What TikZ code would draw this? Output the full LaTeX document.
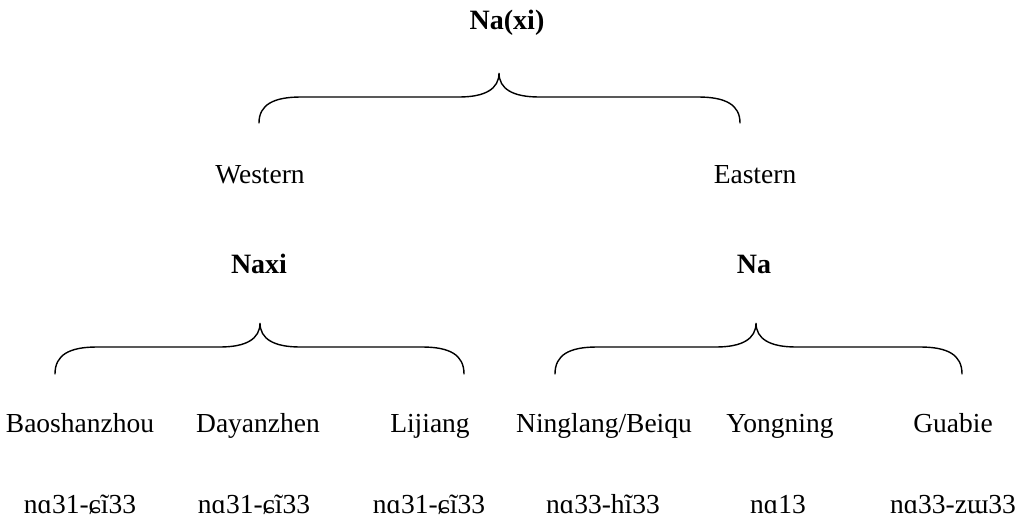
\documentclass[tikz,border=0pt]{standalone}
\usepackage{fontspec}
\setmainfont{Liberation Serif}
\usepackage{tikz}
\usetikzlibrary{positioning, calc}

\begin{document}
\begin{tikzpicture}[x=1pt, y=-1pt, font=\fontsize{27.5}{32}\selectfont,
      lbl/.style={anchor=base, inner sep=0pt},
      grp/.style={lbl, font=\fontsize{28}{32}\selectfont\bfseries},
      brc/.style={line width=1.4pt, line cap=round}]
    \useasboundingbox (0,0) rectangle (1019,524);
    % top level
    \node[grp] (naxiall) at (507, 30) {Na(xi)};
    \node[lbl] (west) at (260, 183) {Western};
    \node[lbl] (east) at (755, 183) {Eastern};
    \node[grp] (naxi) at (259, 273) {Naxi};
    \node[grp] (na) at (754, 273) {Na};
    % dialects
    \node[lbl] (bao) at (80, 432) {Baoshanzhou};
    \node[lbl] (day) at (258, 432) {Dayanzhen};
    \node[lbl] (lij) at (430, 432) {Lijiang};
    \node[lbl] (nin) at (604, 432) {Ninglang/Beiqu};
    \node[lbl] (yon) at (780, 432) {Yongning};
    \node[lbl] (gua) at (953, 432) {Guabie};
    % autonyms
    \node[lbl] (baoN) at (80, 513) {nɑ31-ɕĩ33};
    \node[lbl] (dayN) at (254, 513) {nɑ31-ɕĩ33};
    \node[lbl] (lijN) at (429, 513) {nɑ31-ɕĩ33};
    \node[lbl] (ninN) at (603, 513) {nɑ33-hĩ33};
    \node[lbl] (yonN) at (778, 513) {nɑ13};
    \node[lbl] (guaN) at (953, 513) {nɑ33-zɯ33};
    % braces: left end, tip, right end, tip y, end y
    \foreach \l/\t/\r/\ty/\ey in {259/499/740/73/123, 55/260/464/323/374, 555/756/962/323/374}{
      \pgfmathsetmacro{\my}{\ty+24}
      \draw[brc] (\l,\ey) .. controls (\l,\my+8) and (\l+14,\my) .. (\l+42,\my)
        -- (\t-40,\my) .. controls (\t-14,\my) and (\t,\my-8) .. (\t,\ty)
        .. controls (\t,\my-8) and (\t+14,\my) .. (\t+40,\my)
        -- (\r-42,\my) .. controls (\r-14,\my) and (\r,\my+8) .. (\r,\ey);
    }
  \end{tikzpicture}
\end{document}
